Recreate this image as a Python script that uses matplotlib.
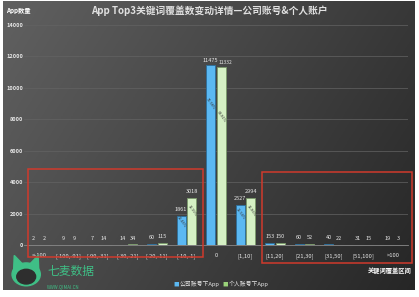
import numpy as np
import matplotlib.pyplot as plt
from matplotlib.patches import Rectangle, Ellipse, Polygon

plt.rcParams['font.family'] = ['Noto Sans CJK SC', 'DejaVu Sans']

categories = ['<-100', '[-100,-91]', '[-90,-31]', '[-30,-21]', '[-20,-11]', '[-10,-1]',
              '0', '[1,10]', '[11,20]', '[21,30]', '[31,50]', '[51,100]', '>100']
company = [2, 9, 7, 14, 60, 1861, 11475, 2527, 153, 60, 40, 31, 19]
personal = [2, 9, 14, 34, 115, 3018, 11332, 2994, 150, 52, 22, 15, 3]
series_names = ['公司账号下App', '个人账号下App']
title = 'App Top3关键词覆盖数变动详情—公司账号&个人账户'

blue = '#5bb8f2'
green = '#d5f0c4'
txt = '#e8e8e8'

fig = plt.figure(figsize=(4.19, 2.97), dpi=100)
fig.patch.set_facecolor('white')

# gradient background panel
bg = fig.add_axes([0.008, 0.022, 0.982, 0.975])
xx, yy = np.meshgrid(np.linspace(0, 1, 200), np.linspace(0, 1, 200))
shade = 0.38 - 0.16 * xx - 0.07 * yy
bg.imshow(np.dstack([shade] * 3), extent=[0, 1, 0, 1], aspect='auto', origin='upper')
bg.set_axis_off()

ax = fig.add_axes([0.058, 0.175, 0.915, 0.741])
ax.set_facecolor('none')
x = np.arange(len(categories))
w = 0.3
b1 = ax.bar(x - 0.18, company, w, color=blue, edgecolor='#2c6e9a', linewidth=0.6, zorder=3)
b2 = ax.bar(x + 0.18, personal, w, color=green, edgecolor='#7a9a6a', linewidth=0.6, zorder=3)

ax.set_xlim(-0.5, len(categories) - 0.5)
ax.set_ylim(0, 14000)
ax.set_yticks(np.arange(0, 14001, 2000))
ax.set_yticklabels([str(v) for v in range(0, 14001, 2000)], fontsize=4, color=txt, fontweight='bold')
ax.set_xticks(x)
ax.set_xticklabels(categories, fontsize=4.2, color=txt)
ax.tick_params(length=0)
ax.tick_params(axis='x', pad=6)
ax.tick_params(axis='y', pad=1)
ax.grid(axis='y', color='#636363', linewidth=0.5, zorder=0)
for s in ['top', 'right', 'left']:
    ax.spines[s].set_visible(False)
ax.spines['bottom'].set_color('#8a8a8a')
ax.spines['bottom'].set_linewidth(0.6)

# value labels
for i in range(len(categories)):
    if categories[i] == '0':
        ax.text(x[i] - 0.18, company[i] + 120, str(company[i]), ha='center', va='bottom', fontsize=4, color=txt)
        ax.text(x[i] + 0.32, personal[i] + 120, str(personal[i]), ha='center', va='bottom', fontsize=3.5, color=txt)
        continue
    ax.text(x[i] - 0.18, company[i] + 250, str(company[i]), ha='center', va='bottom', fontsize=4, color=txt)
    ax.text(x[i] + 0.18, personal[i] + 250, str(personal[i]), ha='center', va='bottom', fontsize=4, color=txt)

# share labels inside the big bars
tot1, tot2 = sum(company), sum(personal)
for i in [5, 6, 7]:
    ax.text(x[i] - 0.18, company[i] * 0.78, '%.2f%%' % (100.0 * company[i] / tot1), rotation=-55,
            ha='center', va='center', fontsize=2.8, color='#333333', zorder=4)
    ax.text(x[i] + 0.18, personal[i] * 0.72, '%.2f%%' % (100.0 * personal[i] / tot2), rotation=-55,
            ha='center', va='center', fontsize=2.8, color='#333333', zorder=4)

# red frames
fig.add_artist(Rectangle((0.067, 0.135), 0.418, 0.296, transform=fig.transFigure,
                         fill=False, edgecolor='#d03a2c', linewidth=1.1))
fig.add_artist(Rectangle((0.626, 0.115), 0.358, 0.306, transform=fig.transFigure,
                         fill=False, edgecolor='#d03a2c', linewidth=1.1))

fig.text(0.5, 0.965, title, ha='center', va='center', fontsize=7, color='#e0e0e0', fontweight='bold')
fig.text(0.015, 0.965, 'App数量', ha='left', va='center', fontsize=4.5, color='white', fontweight='bold')
fig.text(0.93, 0.09, '关键词覆盖区间', ha='center', va='center', fontsize=4.5, color='white', fontweight='bold')

# legend
fig.text(0.42, 0.045, '■', ha='center', va='center', fontsize=4, color=blue)
fig.text(0.43, 0.045, series_names[0], ha='left', va='center', fontsize=4.2, color=txt)
fig.text(0.537, 0.045, '■', ha='center', va='center', fontsize=4, color='#9ad27a')
fig.text(0.547, 0.045, series_names[1], ha='left', va='center', fontsize=4.2, color=txt)

# logo
lg = fig.add_axes([0.025, 0.03, 0.075, 0.11])
lg.set_xlim(0, 1)
lg.set_ylim(0, 1)
lg.set_axis_off()
lg.add_patch(Ellipse((0.5, 0.42), 0.9, 0.7, color='#3fbf86'))
lg.add_patch(Polygon([(0.1, 0.55), (0.12, 1.0), (0.4, 0.72)], color='#3fbf86'))
lg.add_patch(Polygon([(0.9, 0.55), (0.88, 1.0), (0.6, 0.72)], color='#3fbf86'))
lg.add_patch(Ellipse((0.5, 0.35), 0.6, 0.45, color='#2e2e2e'))
fig.text(0.112, 0.085, '七麦数据', ha='left', va='center', fontsize=8.5, color='#3fbf86')
fig.text(0.112, 0.035, 'WWW.QIMAI.CN', ha='left', va='center', fontsize=3.2, color='#3fbf86')

fig.savefig('out.png', dpi=100, facecolor=fig.get_facecolor())
